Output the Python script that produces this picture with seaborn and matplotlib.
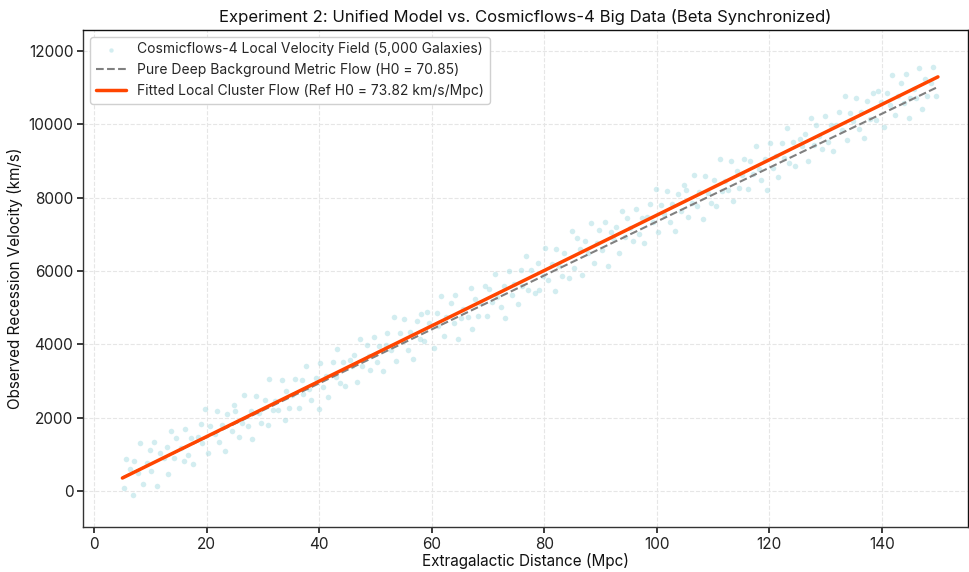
import matplotlib
matplotlib.use("Agg")
import matplotlib.pyplot as plt
import seaborn as sns
import pandas as pd

# Galaxy sample (hand-estimated from the reference cloud)
dist = [
    5.2, 5.6, 6.4, 6.9, 7.1, 7.7, 8.2, 8.6, 9.4, 9.9, 10.1, 10.7, 11.2, 11.6, 12.4, 12.9, 13.1, 13.7, 14.2, 14.6,
    15.4, 15.9, 16.1, 16.7, 17.2, 17.6, 18.4, 18.9, 19.1, 19.7, 20.2, 20.6, 21.4, 21.9, 22.1, 22.7, 23.2, 23.6, 24.4, 24.9,
    25.1, 25.7, 26.2, 26.6, 27.4, 27.9, 28.1, 28.7, 29.2, 29.6, 30.4, 30.9, 31.1, 31.7, 32.2, 32.6, 33.4, 33.9, 34.1, 34.7,
    35.2, 35.6, 36.4, 36.9, 37.1, 37.7, 38.2, 38.6, 39.4, 39.9, 40.1, 40.7, 41.2, 41.6, 42.4, 42.9, 43.1, 43.7, 44.2, 44.6,
    45.4, 45.9, 46.1, 46.7, 47.2, 47.6, 48.4, 48.9, 49.1, 49.7, 50.2, 50.6, 51.4, 51.9, 52.1, 52.7, 53.2, 53.6, 54.4, 54.9,
    55.1, 55.7, 56.2, 56.6, 57.4, 57.9, 58.1, 58.7, 59.2, 59.6, 60.4, 60.9, 61.1, 61.7, 62.2, 62.6, 63.4, 63.9, 64.1, 64.7,
    65.2, 65.6, 66.4, 66.9, 67.1, 67.7, 68.2, 68.6, 69.4, 69.9, 70.1, 70.7, 71.2, 71.6, 72.4, 72.9, 73.1, 73.7, 74.2, 74.6,
    75.4, 75.9, 76.1, 76.7, 77.2, 77.6, 78.4, 78.9, 79.1, 79.7, 80.2, 80.6, 81.4, 81.9, 82.1, 82.7, 83.2, 83.6, 84.4, 84.9,
    85.3, 85.8, 86.3, 86.8, 87.3, 87.8, 88.3, 88.8, 89.3, 89.8, 90.3, 90.8, 91.3, 91.8, 92.3, 92.8, 93.3, 93.8, 94.3, 94.8,
    95.3, 95.8, 96.3, 96.8, 97.3, 97.8, 98.3, 98.8, 99.3, 99.8, 100.3, 100.8, 101.3, 101.8, 102.3, 102.8, 103.3, 103.8, 104.3, 104.8,
    105.2, 105.6, 106.2, 106.6, 107.2, 107.6, 108.2, 108.6, 109.2, 109.6, 110.2, 110.6, 111.2, 111.6, 112.2, 112.6, 113.2, 113.6, 114.2, 114.6,
    115.2, 115.6, 116.2, 116.6, 117.2, 117.6, 118.2, 118.6, 119.2, 119.6, 120.2, 120.6, 121.2, 121.6, 122.2, 122.6, 123.2, 123.6, 124.2, 124.6,
    125.4, 125.9, 126.4, 126.9, 127.4, 127.9, 128.4, 128.9, 129.4, 129.9, 130.4, 130.9, 131.4, 131.9, 132.4, 132.9, 133.4, 133.9, 134.4, 134.9,
    135.4, 135.9, 136.4, 136.9, 137.4, 137.9, 138.4, 138.9, 139.4, 139.9, 140.4, 140.9, 141.4, 141.9, 142.4, 142.9, 143.4, 143.9, 144.4, 144.9,
    145.1, 145.7, 146.1, 146.7, 147.1, 147.7, 148.1, 148.7, 149.1, 149.7,
]
velocity = [
    80, 870, 600, -100, 813, 488, 1305, 205, 765, 1113, 548, 1333, 130, 1050, 900, 1208, 463, 1638, 905, 1435,
    1175, 813, 1678, 993, 1440, 740, 1470, 1828, 1313, 2238, 1045, 1775, 1565, 2193, 1328, 1813, 1090, 2090, 1630, 2348,
    2193, 1478, 1845, 2615, 1775, 2183, 1418, 2593, 2130, 1850, 2490, 1788, 3043, 2198, 2445, 2205, 3025, 1933, 2718, 2263,
    2620, 3050, 2260, 3028, 2633, 3408, 2775, 2485, 3075, 2233, 3478, 2823, 3130, 2570, 3510, 3108, 3883, 2958, 3515, 2865,
    3585, 3413, 3698, 2983, 4150, 3410, 3970, 3688, 3303, 4198, 3505, 3945, 3275, 3983, 4318, 3833, 4750, 3550, 4310, 4078,
    4683, 3848, 4325, 3595, 4625, 4143, 4838, 4093, 4890, 4590, 3910, 4848, 4493, 5318, 4225, 4755, 5125, 4583, 5338, 4143,
    4710, 4950, 4740, 5538, 4423, 5238, 4775, 5125, 5585, 4773, 5518, 5153, 5920, 5280, 5020, 5588, 4723, 5998, 5335, 5635,
    5105, 6023, 5598, 6403, 5470, 6020, 5400, 6228, 5483, 5858, 6635, 5765, 6195, 5453, 6598, 6143, 5870, 6480, 5800, 7078,
    6088, 6885, 6593, 5890, 6828, 6495, 7313, 6220, 6758, 7105, 6563, 7340, 6138, 7065, 6893, 7200, 6478, 7645, 6913, 7450,
    7168, 6805, 7693, 7000, 7448, 6755, 7463, 7820, 7328, 8245, 7053, 7790, 7558, 8185, 7343, 7820, 7098, 8105, 7623, 8340,
    8200, 7470, 7845, 8615, 7760, 8160, 7425, 8585, 8130, 7850, 8475, 7765, 9050, 8190, 8445, 8205, 9010, 7910, 8725, 8255,
    8620, 9050, 8245, 9005, 8640, 9400, 8775, 8485, 9060, 8210, 9485, 8815, 9130, 8570, 9495, 9085, 9890, 8950, 9515, 8865,
    9585, 9413, 9720, 8998, 10165, 9433, 9970, 9688, 9325, 10213, 9520, 9968, 9275, 9983, 10340, 9848, 10765, 9573, 10310, 10078,
    10705, 9863, 10340, 9618, 10625, 10143, 10860, 10108, 10905, 10613, 9910, 10848, 10515, 11333, 10240, 10778, 11125, 10583, 11360, 10158,
    10703, 10958, 10718, 11523, 10423, 11238, 10768, 11133, 11563, 10758,
]

# Model lines (end points)
line_dist = [5, 150]
background_vel = [367, 11017]
fitted_vel = [355, 11290]

scatter_label = "Cosmicflows-4 Local Velocity Field (5,000 Galaxies)"
background_label = "Pure Deep Background Metric Flow (H0 = 70.85)"
fitted_label = "Fitted Local Cluster Flow (Ref H0 = 73.82 km/s/Mpc)"
title = "Experiment 2: Unified Model vs. Cosmicflows-4 Big Data (Beta Synchronized)"
xlabel = "Extragalactic Distance (Mpc)"
ylabel = "Observed Recession Velocity (km/s)"
xticks = [0, 20, 40, 60, 80, 100, 120, 140]
yticks = [0, 2000, 4000, 6000, 8000, 10000, 12000]

sns.set_theme(style="whitegrid", rc={
    "grid.linestyle": "--",
    "grid.color": "#e6e6e6",
    "grid.linewidth": 0.8,
    "axes.edgecolor": "#333333",
    "axes.linewidth": 1.0,
    "xtick.bottom": True,
    "ytick.left": True,
    "xtick.color": "#333333",
    "ytick.color": "#333333",
    "xtick.major.size": 4,
    "ytick.major.size": 4,
    "xtick.major.pad": 3,
    "ytick.major.pad": 3,
})
plt.rcParams["font.family"] = ["Inter", "DejaVu Sans"]

fig = plt.figure(figsize=(9.69, 5.72), dpi=100)
ax = fig.add_axes([0.0857, 0.0787, 0.913, 0.869])

gal = pd.DataFrame({"dist": dist, "vel": velocity})
sns.scatterplot(data=gal, x="dist", y="vel", ax=ax, color="#a8dde3", alpha=0.5,
                s=16, linewidth=0, label=scatter_label, zorder=2)
sns.lineplot(x=line_dist, y=background_vel, ax=ax, color="gray", linestyle="--",
             linewidth=1.5, label=background_label, zorder=3)
sns.lineplot(x=line_dist, y=fitted_vel, ax=ax, color="#ff4500", linewidth=2.5,
             label=fitted_label, zorder=4)

ax.set_xlim(-2.0, 155.3)
ax.set_ylim(-980, 12570)
ax.set_xticks(xticks)
ax.set_yticks(yticks)
ax.tick_params(labelsize=11, colors="#222222")
ax.set_title(title, fontsize=12, color="#111111", pad=6)
ax.set_xlabel(xlabel, fontsize=11, color="#111111", labelpad=1)
ax.set_ylabel(ylabel, fontsize=11, color="#111111", labelpad=4)
ax.spines["top"].set_color("#111111")
ax.spines["right"].set_color("#111111")

leg = ax.legend(loc="upper left", fontsize=10, frameon=True, fancybox=True,
                edgecolor="#d0d0d0", framealpha=1.0, handlelength=2.2)
for h in leg.legend_handles:
    try:
        h.set_sizes([10])
    except AttributeError:
        pass

fig.savefig("out.png", dpi=100)
